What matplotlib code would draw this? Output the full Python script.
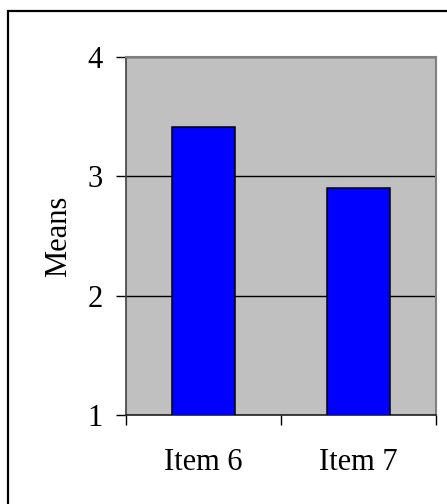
import matplotlib.pyplot as plt
from matplotlib.patches import Rectangle

items = ["Item 6", "Item 7"]
means = [3.41, 2.90]
y_ticks = [1, 2, 3, 4]

plt.rcParams['font.family'] = ['Liberation Serif', 'DejaVu Serif']

fig = plt.figure(figsize=(4.47, 5.04), dpi=100)
ax = fig.add_axes([0.2819, 0.1766, 0.6935, 0.7103])

# frame around the whole chart
fig.patches.append(Rectangle((8 / 447, -0.05), 1.2, (504 - 11) / 504 + 0.05,
                             transform=fig.transFigure, fill=False,
                             edgecolor='black', linewidth=1.6, zorder=0))

ax.set_facecolor('#c0c0c0')
x = range(len(items))
ax.bar(x, means, width=0.41, bottom=0, color='#0000ff', edgecolor='black',
       linewidth=1.1, zorder=3)

ax.set_ylim(1, 4)
ax.set_xlim(-0.5, len(items) - 0.5)
ax.set_yticks(y_ticks)
ax.set_xticks(list(x))
ax.set_xticklabels(items)
ax.set_xticks([-0.5, 0.5, 1.5], minor=True)

ax.yaxis.grid(True, color='black', linewidth=1.0, zorder=1)
ax.set_axisbelow(True)

ax.tick_params(axis='y', direction='out', length=7, width=1.0, pad=10,
               labelsize=22, color='black')
ax.tick_params(axis='x', which='major', length=0, pad=24, labelsize=22)
ax.tick_params(axis='x', which='minor', direction='out', length=7, width=1.0,
               color='black')

for side in ['top', 'right']:
    ax.spines[side].set_color('#808080')
    ax.spines[side].set_linewidth(1.5)
ax.spines['left'].set_color('#404040')
ax.spines['left'].set_linewidth(1.2)
ax.spines['bottom'].set_color('#202020')
ax.spines['bottom'].set_linewidth(1.2)

ax.set_ylabel('Means', fontsize=22, labelpad=10)

plt.savefig('out.png', dpi=100)
